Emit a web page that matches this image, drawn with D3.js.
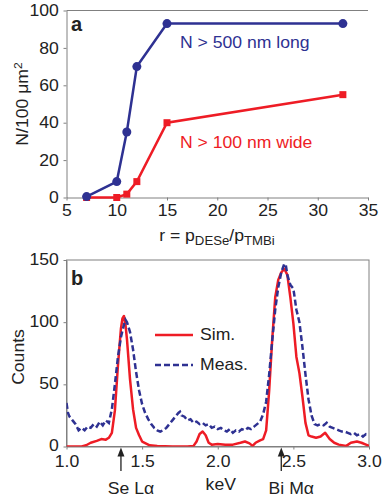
<!DOCTYPE html>
<html>
<head>
<meta charset="utf-8">
<script src="https://cdn.jsdelivr.net/npm/d3@7"></script>
<style>
  body { margin: 0; background: #fff; }
  svg { font-family: "Liberation Sans", Arial, sans-serif; }
</style>
</head>
<body>
<svg></svg>
<script>
// panel a data
let ratio = [7, 10, 11, 12, 15, 32.5];
let longCounts = [0.5, 8.5, 35, 70, 93, 93];
let wideCounts = [0, 0, 1.8, 8.5, 40, 55];
let xTicksA = [5, 10, 15, 20, 25, 30, 35];
let yTicksA = [0, 20, 40, 60, 80, 100];

// panel b data
let simKeV = [1.00, 1.05, 1.10, 1.13, 1.16, 1.20, 1.23, 1.26, 1.28, 1.30, 1.32, 1.34, 1.36, 1.37, 1.38, 1.39, 1.40, 1.42, 1.44, 1.46, 1.48, 1.50, 1.55, 1.60, 1.70, 1.80, 1.84, 1.86, 1.88, 1.90, 1.92, 1.94, 1.96, 2.00, 2.05, 2.10, 2.15, 2.18, 2.21, 2.23, 2.25, 2.28, 2.30, 2.32, 2.34, 2.36, 2.38, 2.40, 2.42, 2.44, 2.46, 2.48, 2.50, 2.52, 2.54, 2.56, 2.58, 2.60, 2.62, 2.65, 2.68, 2.71, 2.74, 2.77, 2.80, 2.85, 2.88, 2.92, 2.95, 2.98, 3.00];
let simCounts = [0, 0, 0, 1, 3, 4.5, 6, 5.5, 7, 11, 29, 65, 95, 103, 105, 98, 86, 54, 30, 15, 9, 4, 1, 0.5, 0, 0, 0.5, 4, 10, 12, 9, 3, 1.5, 2, 1.5, 1.5, 3, 4, 2.5, 0.5, 3, 5, 6, 13, 45, 86, 120, 134, 140, 143, 138, 120, 99, 72, 59, 40, 19, 9, 8, 7, 8, 11, 6, 3, 1.5, 0.5, 3, 4, 3, 1.5, 0.5];
let measKeV = [1.00, 1.01, 1.02, 1.04, 1.06, 1.08, 1.10, 1.12, 1.14, 1.16, 1.18, 1.20, 1.22, 1.24, 1.26, 1.28, 1.30, 1.32, 1.34, 1.36, 1.38, 1.39, 1.40, 1.42, 1.44, 1.46, 1.48, 1.50, 1.52, 1.54, 1.56, 1.58, 1.60, 1.62, 1.64, 1.66, 1.68, 1.70, 1.72, 1.74, 1.75, 1.76, 1.78, 1.80, 1.82, 1.84, 1.86, 1.88, 1.90, 1.92, 1.94, 1.96, 1.98, 2.00, 2.02, 2.04, 2.06, 2.08, 2.10, 2.12, 2.14, 2.16, 2.18, 2.20, 2.22, 2.24, 2.26, 2.28, 2.30, 2.32, 2.34, 2.36, 2.38, 2.40, 2.42, 2.44, 2.45, 2.46, 2.48, 2.50, 2.52, 2.54, 2.56, 2.58, 2.60, 2.62, 2.64, 2.66, 2.68, 2.70, 2.72, 2.74, 2.76, 2.78, 2.80, 2.82, 2.84, 2.86, 2.88, 2.90, 2.92, 2.94, 2.96, 2.98, 3.00];
let measCounts = [35, 27, 24, 21, 18, 13, 15, 13, 16, 15, 18, 16, 20, 17, 21, 19, 30, 50, 72, 88, 98, 102, 100, 92, 78, 60, 45, 34, 27, 22, 18, 15, 13, 12, 13, 15, 18, 21, 24, 27, 28, 25, 24, 21, 22, 19, 20, 18, 19, 17, 18, 15, 16, 14, 15, 13, 12, 14, 11, 13, 12, 14, 13, 15, 14, 16, 18, 20, 26, 36, 58, 85, 110, 128, 140, 147, 146, 138, 130, 127, 110, 100, 80, 58, 38, 25, 18, 17, 18, 17, 19, 16, 15, 14, 13, 12, 12, 11, 10, 11, 9, 10, 8, 10, 9];
let xTicksB = [1.0, 1.5, 2.0, 2.5, 3.0];
let yTicksB = [0, 50, 100, 150];
let lineLabels = [{ name: "Se L\u03b1", keV: 1.36 }, { name: "Bi M\u03b1", keV: 2.42 }];

let width = 388;
let height = 500;
let blue = "#2e3192";
let red = "#ee1c25";
let axisColor = "#808080";
let fontSize = "16px";
let stretch = "scale(1.1,1)";

let svg = d3.select("svg").attr("width", width).attr("height", height);

function styleAxis(g) {
  g.selectAll(".domain").attr("stroke", axisColor);
  g.selectAll(".tick line").attr("stroke", axisColor);
  g.selectAll(".tick text")
    .attr("fill", "#222")
    .style("font-size", fontSize)
    .attr("transform", stretch);
}

function addText(x, y, str, color, anchor) {
  return svg
    .append("text")
    .attr("transform", `translate(${x},${y}) ${stretch}`)
    .attr("fill", color || "#222")
    .style("font-size", fontSize)
    .style("text-anchor", anchor || "start")
    .text(str);
}

// ---------- panel a ----------
let ax = d3.scaleLinear().domain([5, 35]).range([66.5, 368]);
let ay = d3.scaleLinear().domain([0, 100]).range([197.5, 10.5]);

// top border
svg.append("line")
  .attr("x1", ax(5)).attr("x2", ax(35))
  .attr("y1", ay(100)).attr("y2", ay(100))
  .attr("stroke", axisColor);

let gxa = svg.append("g")
  .attr("transform", `translate(0,${ay(0)})`)
  .call(d3.axisBottom(ax).tickValues(xTicksA).tickSizeInner(3).tickSizeOuter(0).tickPadding(4));
styleAxis(gxa);

let gya = svg.append("g")
  .attr("transform", `translate(${ax(5)},0)`)
  .call(d3.axisLeft(ay).tickValues(yTicksA).tickSizeInner(3).tickSizeOuter(0).tickPadding(4));
styleAxis(gya);

let lineA = d3.line().x((d) => ax(d[0])).y((d) => ay(d[1]));
let longPts = ratio.map((r, i) => [r, longCounts[i]]);
let widePts = ratio.map((r, i) => [r, wideCounts[i]]);

svg.append("path").datum(widePts)
  .attr("d", lineA).attr("fill", "none").attr("stroke", red).attr("stroke-width", 2.5);
svg.selectAll(".sq").data(widePts).enter().append("rect")
  .attr("class", "sq")
  .attr("x", (d) => ax(d[0]) - 3.5).attr("y", (d) => ay(d[1]) - 3.5)
  .attr("width", 7).attr("height", 7).attr("fill", red);

svg.append("path").datum(longPts)
  .attr("d", lineA).attr("fill", "none").attr("stroke", blue).attr("stroke-width", 2.5);
svg.selectAll(".dot").data(longPts).enter().append("circle")
  .attr("class", "dot")
  .attr("cx", (d) => ax(d[0])).attr("cy", (d) => ay(d[1]))
  .attr("r", 4.5).attr("fill", blue);

svg.append("text").attr("x", 71).attr("y", 31)
  .style("font-size", "20px").style("font-weight", "bold").attr("fill", "#222").text("a");

addText(180, 48, "N > 500 nm long", blue);
addText(180, 148, "N > 100 nm wide", red);

// x label with subscripts
let rLabel = svg.append("text")
  .attr("transform", `translate(217,241) ${stretch}`)
  .style("font-size", fontSize).style("text-anchor", "middle").attr("fill", "#222");
rLabel.append("tspan").text("r = p");
rLabel.append("tspan").attr("dy", 4).style("font-size", "12px").text("DESe");
rLabel.append("tspan").attr("dy", -4).text("/p");
rLabel.append("tspan").attr("dy", 4).style("font-size", "12px").text("TMBi");

let yLabelA = svg.append("text")
  .attr("transform", `translate(28,104) rotate(-90) ${stretch}`)
  .style("font-size", fontSize).style("text-anchor", "middle").attr("fill", "#222");
yLabelA.append("tspan").text("N/100 \u03bcm");
yLabelA.append("tspan").attr("dy", -6).style("font-size", "11px").text("2");

// ---------- panel b ----------
let bx = d3.scaleLinear().domain([1, 3]).range([66.5, 369]);
let by = d3.scaleLinear().domain([0, 150]).range([446.5, 260]);

svg.append("defs").append("clipPath").attr("id", "clipB")
  .append("rect")
  .attr("x", bx(1)).attr("y", by(150))
  .attr("width", bx(3) - bx(1)).attr("height", by(0) - by(150));

// box
svg.append("rect")
  .attr("x", bx(1)).attr("y", by(150))
  .attr("width", bx(3) - bx(1)).attr("height", by(0) - by(150))
  .attr("fill", "none").attr("stroke", axisColor);

let gxb = svg.append("g")
  .attr("transform", `translate(0,${by(0)})`)
  .call(d3.axisBottom(bx).tickValues(xTicksB).tickFormat(d3.format(".1f")).tickSizeInner(3).tickSizeOuter(0).tickPadding(6));
styleAxis(gxb);

let gyb = svg.append("g")
  .attr("transform", `translate(${bx(1)},0)`)
  .call(d3.axisLeft(by).tickValues(yTicksB).tickSizeInner(3).tickSizeOuter(0).tickPadding(4));
styleAxis(gyb);
gyb.selectAll(".tick text").attr("dy", "0.25em");

let lineB = d3.line().x((d) => bx(d[0])).y((d) => by(d[1]));
let simPts = simKeV.map((k, i) => [k, simCounts[i]]);
let measPts = measKeV.map((k, i) => [k, measCounts[i]]);

let plotB = svg.append("g").attr("clip-path", "url(#clipB)");
plotB.append("path").datum(simPts)
  .attr("d", lineB).attr("fill", "none").attr("stroke", red)
  .attr("stroke-width", 2.5).attr("stroke-linejoin", "round");
plotB.append("path").datum(measPts)
  .attr("d", lineB).attr("fill", "none").attr("stroke", blue)
  .attr("stroke-width", 2.5).attr("stroke-dasharray", "6,3");

svg.append("text").attr("x", 71).attr("y", 285)
  .style("font-size", "20px").style("font-weight", "bold").attr("fill", "#222").text("b");

// legend
svg.append("line").attr("x1", 155).attr("x2", 193).attr("y1", 335).attr("y2", 335)
  .attr("stroke", red).attr("stroke-width", 2.5);
addText(200, 340, "Sim.");
svg.append("line").attr("x1", 155).attr("x2", 193).attr("y1", 365).attr("y2", 365)
  .attr("stroke", blue).attr("stroke-width", 2.5).attr("stroke-dasharray", "6,3");
addText(200, 370, "Meas.");

// element line arrows
lineLabels.forEach((l) => {
  let x = bx(l.keV);
  let tip = by(0) + 1;
  svg.append("line")
    .attr("x1", x).attr("x2", x)
    .attr("y1", 471).attr("y2", tip + 6)
    .attr("stroke", "#222").attr("stroke-width", 1.3);
  svg.append("path")
    .attr("d", `M${x},${tip} L${x - 3.5},${tip + 9} L${x + 3.5},${tip + 9} Z`)
    .attr("fill", "#222");
  addText(x + 10, 494, l.name, "#222", "middle");
});

addText(bx(2.0) + 3, 490, "keV", "#222", "middle");

svg.append("text")
  .attr("transform", `translate(24,357) rotate(-90) ${stretch}`)
  .style("font-size", fontSize).style("text-anchor", "middle").attr("fill", "#222")
  .text("Counts");
</script>
</body>
</html>
